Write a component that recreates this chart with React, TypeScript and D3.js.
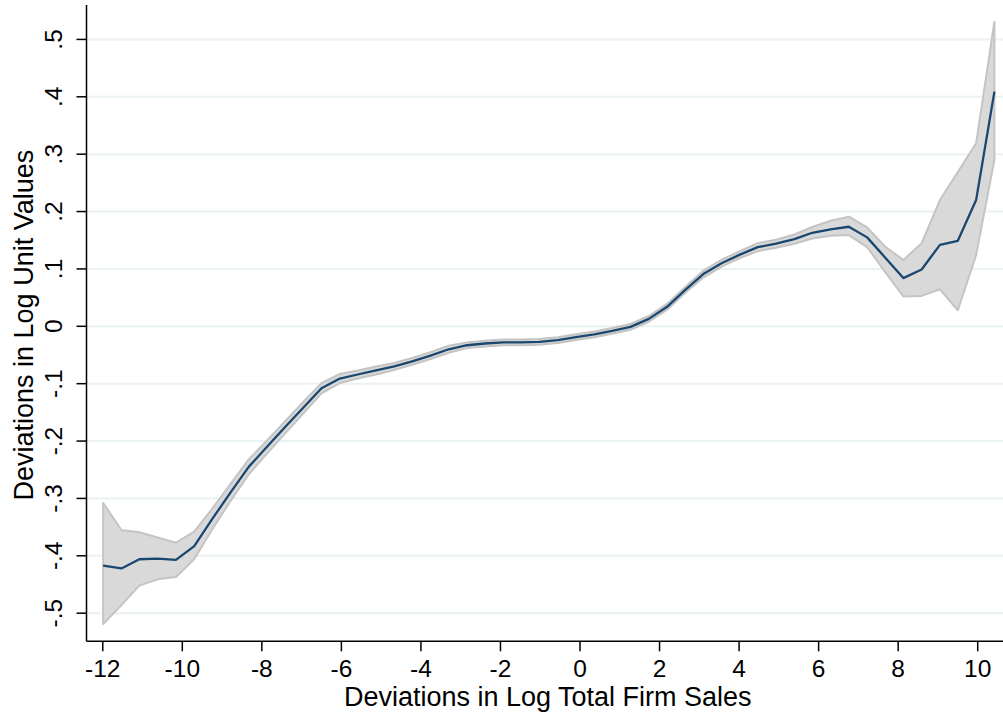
import React from "react";
import * as d3 from "d3";

const xValues = [
  -11.99, -11.53, -11.08, -10.62, -10.16, -9.7, -9.25, -8.79, -8.33, -7.87,
  -7.42, -6.96, -6.5, -6.04, -5.59, -5.13, -4.67, -4.22, -3.76, -3.3,
  -2.84, -2.39, -1.93, -1.47, -1.02, -0.56, -0.1, 0.36, 0.81, 1.27,
  1.73, 2.19, 2.64, 3.1, 3.56, 4.02, 4.47, 4.93, 5.39, 5.84,
  6.3, 6.76, 7.22, 7.67, 8.13, 8.59, 9.05, 9.5, 9.96, 10.42,
];

const fitValues = [
  -0.417, -0.422, -0.406, -0.405, -0.407, -0.383, -0.336, -0.29, -0.245, -0.21,
  -0.176, -0.142, -0.108, -0.091, -0.084, -0.077, -0.07, -0.061, -0.051, -0.04,
  -0.033, -0.03, -0.028, -0.028, -0.027, -0.024, -0.019, -0.014, -0.008, -0.001,
  0.013, 0.034, 0.063, 0.091, 0.11, 0.125, 0.138, 0.144, 0.152, 0.163,
  0.169, 0.1735, 0.155, 0.12, 0.084, 0.099, 0.142, 0.149, 0.22, 0.409,
];

const upperValues = [
  -0.308, -0.355, -0.359, -0.368, -0.377, -0.358, -0.318, -0.275, -0.232, -0.199,
  -0.166, -0.132, -0.099, -0.083, -0.077, -0.07, -0.064, -0.055, -0.045, -0.034,
  -0.028, -0.025, -0.023, -0.023, -0.022, -0.019, -0.014, -0.009, -0.003, 0.004,
  0.018, 0.039, 0.068, 0.097, 0.116, 0.131, 0.145, 0.151, 0.16, 0.173,
  0.184, 0.191, 0.1725, 0.139, 0.1155, 0.145, 0.22, 0.269, 0.319, 0.531,
];

const lowerValues = [
  -0.519, -0.486, -0.452, -0.441, -0.437, -0.406, -0.354, -0.305, -0.258, -0.222,
  -0.187, -0.152, -0.117, -0.099, -0.091, -0.084, -0.076, -0.067, -0.057, -0.046,
  -0.038, -0.035, -0.033, -0.033, -0.032, -0.029, -0.024, -0.019, -0.013, -0.006,
  0.008, 0.029, 0.058, 0.085, 0.104, 0.119, 0.131, 0.137, 0.144, 0.153,
  0.158, 0.159, 0.138, 0.095, 0.052, 0.053, 0.0645, 0.028, 0.124, 0.29,
];

const xTicks = [-12, -10, -8, -6, -4, -2, 0, 2, 4, 6, 8, 10];
const yTicks = [-0.5, -0.4, -0.3, -0.2, -0.1, 0, 0.1, 0.2, 0.3, 0.4, 0.5];
const yTickLabels = ["-.5", "-.4", "-.3", "-.2", "-.1", "0", ".1", ".2", ".3", ".4", ".5"];

const xTitle = "Deviations in Log Total Firm Sales";
const yTitle = "Deviations in Log Unit Values";

const W = 1003;
const H = 717;
const left = 86.5;
const right = 1003;
const top = 5;
const bottom = 641.3;

export default function App() {
  const x = d3.scaleLinear().domain([-12.409, 10.636]).range([left, right]);
  const y = d3.scaleLinear().domain([-0.549, 0.56]).range([bottom, top]);

  const rows = xValues.map((xv, i) => ({
    x: xv,
    fit: fitValues[i],
    lo: lowerValues[i],
    hi: upperValues[i],
  }));

  const area = d3
    .area<(typeof rows)[number]>()
    .x((d) => x(d.x))
    .y0((d) => y(d.lo))
    .y1((d) => y(d.hi));
  const line = d3
    .line<(typeof rows)[number]>()
    .x((d) => x(d.x))
    .y((d) => y(d.fit));

  const font = "'Liberation Sans', Arial, Helvetica, sans-serif";
  const tickSize = 24.5;
  const titleSize = 27;

  return (
    <svg
      width={W}
      height={H}
      style={{ position: "absolute", left: 0, top: 0, background: "#fff" }}
      fontFamily={font}
    >
      <rect x={0} y={0} width={W} height={H} fill="#ffffff" />
      {yTicks.map((t) => (
        <line
          key={"g" + t}
          x1={left}
          x2={right}
          y1={y(t)}
          y2={y(t)}
          stroke="#eaf2f3"
          strokeWidth={2}
        />
      ))}
      <path d={area(rows) ?? ""} fill="#d9d9d9" stroke="#c4c4c4" strokeWidth={2} strokeLinejoin="round" />
      <path d={line(rows) ?? ""} fill="none" stroke="#1a476f" strokeWidth={2.3} strokeLinejoin="round" />

      {/* axes */}
      <line x1={left} x2={left} y1={top} y2={bottom} stroke="#000" strokeWidth={1.5} />
      <line x1={left} x2={right} y1={bottom} y2={bottom} stroke="#000" strokeWidth={1.5} />

      {yTicks.map((t, i) => (
        <g key={"yt" + t}>
          <line x1={left - 10} x2={left} y1={y(t)} y2={y(t)} stroke="#000" strokeWidth={1.5} />
          <text
            transform={`translate(${62},${y(t)}) rotate(-90)`}
            textAnchor="middle"
            fontSize={tickSize}
            fill="#000"
          >
            {yTickLabels[i]}
          </text>
        </g>
      ))}

      {xTicks.map((t) => (
        <g key={"xt" + t}>
          <line x1={x(t)} x2={x(t)} y1={bottom} y2={bottom + 10} stroke="#000" strokeWidth={1.5} />
          <text x={x(t)} y={677} textAnchor="middle" fontSize={tickSize} fill="#000">
            {t}
          </text>
        </g>
      ))}

      <text x={(left + right) / 2 + 3} y={706} textAnchor="middle" fontSize={titleSize} fill="#000">
        {xTitle}
      </text>
      <text
        transform={`translate(${33},${(top + bottom) / 2 + 2}) rotate(-90)`}
        textAnchor="middle"
        fontSize={titleSize}
        fill="#000"
      >
        {yTitle}
      </text>
    </svg>
  );
}
